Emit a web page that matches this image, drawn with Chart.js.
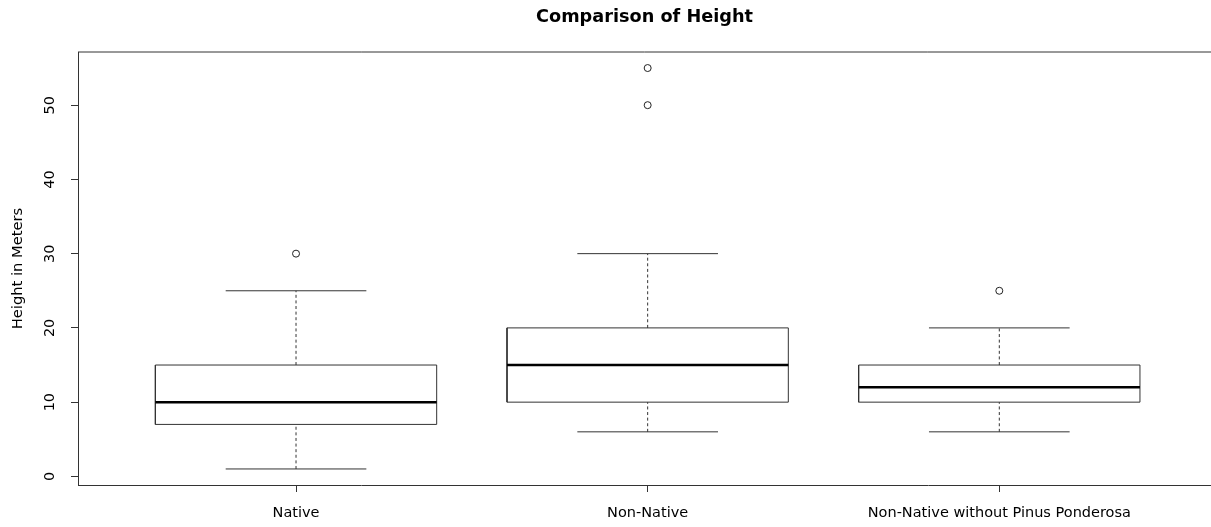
<!DOCTYPE html>
<html>
<head>
<meta charset="utf-8">
<script src="https://cdn.jsdelivr.net/npm/chart.js@4/dist/chart.umd.min.js"></script>
<style>
  html, body { margin: 0; padding: 0; background: #ffffff; }
  canvas { display: block; }
</style>
</head>
<body>
<canvas id="c" width="1211" height="527"></canvas>
<script>
// ---- Data ----
const categories  = ['Native', 'Non-Native', 'Non-Native without Pinus Ponderosa'];
const whiskerLow  = [1, 6, 6];
const q1          = [7, 10, 10];
const median      = [10, 15, 12];
const q3          = [15, 20, 15];
const whiskerHigh = [25, 30, 20];
const outliers    = [[30], [50, 55], [25]];
const yTicks      = [0, 10, 20, 30, 40, 50];

// ---- Build datasets from the arrays ----
const BOX_HALF = 0.4, CAP_HALF = 0.2;
const boxPts = [], medPts = [], whiskPts = [], capPts = [], outPts = [];
categories.forEach((c, i) => {
  const x = i + 1;
  boxPts.push({x: x - BOX_HALF, y: q1[i]}, {x: x + BOX_HALF, y: q1[i]},
              {x: x + BOX_HALF, y: q3[i]}, {x: x - BOX_HALF, y: q3[i]},
              {x: x - BOX_HALF, y: q1[i]}, {x: x, y: null});
  medPts.push({x: x - BOX_HALF, y: median[i]}, {x: x + BOX_HALF, y: median[i]}, {x: x, y: null});
  whiskPts.push({x: x, y: q3[i]}, {x: x, y: whiskerHigh[i]}, {x: x, y: null},
                {x: x, y: whiskerLow[i]}, {x: x, y: q1[i]}, {x: x, y: null});
  capPts.push({x: x - CAP_HALF, y: whiskerHigh[i]}, {x: x + CAP_HALF, y: whiskerHigh[i]}, {x: x, y: null},
              {x: x - CAP_HALF, y: whiskerLow[i]}, {x: x + CAP_HALF, y: whiskerLow[i]}, {x: x, y: null});
  outliers[i].forEach(v => outPts.push({x: x, y: v}));
});

// R-style axis ranges (4% extension)
const allVals = [].concat(whiskerLow, whiskerHigh, ...outliers);
const yMinD = Math.min(...allVals), yMaxD = Math.max(...allVals);
const yExt = (yMaxD - yMinD) * 0.04;
const xMin = 0.5 - 3 * 0.04;
const xMax = 3.602;

Chart.defaults.font.family = "'DejaVu Sans', sans-serif";
Chart.defaults.color = '#000';

const lineBase = { showLine: true, pointRadius: 0, pointHoverRadius: 0, spanGaps: false, tension: 0, fill: false };

const frameTop = {
  id: 'frameTop',
  afterDraw(chart) {
    const {ctx, chartArea} = chart;
    ctx.save();
    ctx.strokeStyle = '#333';
    ctx.lineWidth = 1;
    ctx.beginPath();
    ctx.moveTo(chartArea.left, chartArea.top);
    ctx.lineTo(chartArea.right, chartArea.top);
    ctx.stroke();
    ctx.restore();
  }
};

new Chart(document.getElementById('c'), {
  type: 'scatter',
  data: {
    datasets: [
      { label: 'outliers', data: outPts, showLine: false, pointStyle: 'circle',
        pointRadius: 3.5, pointBorderWidth: 1, pointBorderColor: '#222', pointBackgroundColor: '#fff' },
      Object.assign({}, lineBase, { label: 'median', data: medPts, borderColor: '#000', borderWidth: 2.5 }),
      Object.assign({}, lineBase, { label: 'box', data: boxPts, borderColor: '#333', borderWidth: 1 }),
      Object.assign({}, lineBase, { label: 'caps', data: capPts, borderColor: '#333', borderWidth: 1 }),
      Object.assign({}, lineBase, { label: 'whiskers', data: whiskPts, borderColor: '#333', borderWidth: 1, borderDash: [3, 2.6] })
    ]
  },
  options: {
    responsive: false,
    animation: false,
    devicePixelRatio: 1,
    layout: { padding: 0, autoPadding: false },
    plugins: {
      legend: { display: false },
      tooltip: { enabled: false },
      title: {
        display: true,
        fullSize: false,
        text: 'Comparison of Height',
        color: '#000',
        font: { size: 17.7, weight: 'bold', lineHeight: '22px' },
        padding: { top: 6, bottom: 24 }
      }
    },
    scales: {
      x: {
        type: 'linear',
        min: xMin,
        max: xMax,
        afterBuildTicks: s => { s.ticks = categories.map((c, i) => ({ value: i + 1 })); },
        afterFit: s => { s.height = 42; },
        ticks: {
          autoSkip: false,
          maxRotation: 0,
          padding: 13,
          font: { size: 14.5 },
          color: '#000',
          callback: (v) => categories[Math.round(v) - 1]
        },
        grid: { drawOnChartArea: false, drawTicks: true, tickLength: 7, color: '#333' },
        border: { display: true, color: '#333', width: 1 }
      },
      y: {
        type: 'linear',
        min: yMinD - yExt,
        max: yMaxD + yExt,
        afterBuildTicks: s => { s.ticks = yTicks.map(v => ({ value: v })); },
        afterFit: s => { s.width = 78; },
        ticks: {
          autoSkip: false,
          minRotation: 90,
          maxRotation: 90,
          crossAlign: 'center',
          padding: 12,
          font: { size: 14.5 },
          color: '#000'
        },
        grid: { drawOnChartArea: false, drawTicks: true, tickLength: 7, color: '#333' },
        border: { display: true, color: '#333', width: 1 },
        title: {
          display: true,
          text: 'Height in Meters',
          color: '#000',
          font: { size: 14.7 },
          padding: { top: 9, bottom: 0 }
        }
      }
    }
  },
  plugins: [frameTop]
});
</script>
</body>
</html>
